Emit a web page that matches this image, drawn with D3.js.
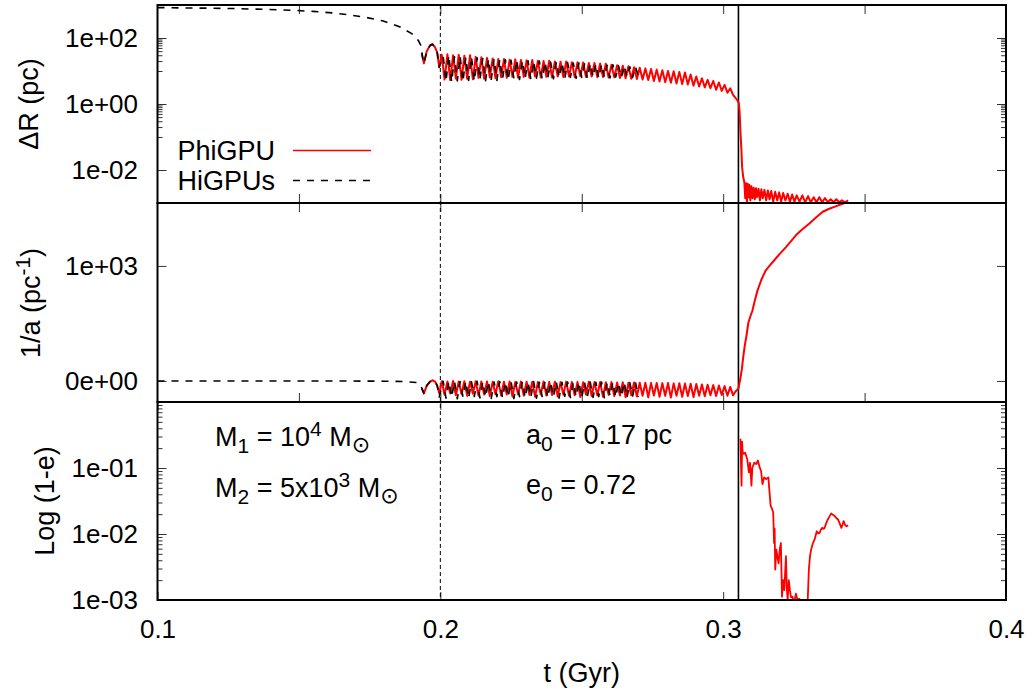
<!DOCTYPE html>
<html><head><meta charset="utf-8">
<script src="https://cdn.jsdelivr.net/npm/d3@7/dist/d3.min.js"></script>
<style>
body{margin:0;background:#fff}
svg{display:block}
text{font-family:"Liberation Sans",Arial,Helvetica,sans-serif}
</style>
</head><body>
<svg id="chart" width="1029" height="688"></svg>
<script>
// ---------------- DATA ----------------
const xTicks = [0.1, 0.2, 0.3, 0.4];
const xTickLabels = ["0.1", "0.2", "0.3", "0.4"];
const xTicksUpper = [0.15, 0.2, 0.25, 0.3, 0.35];

const drTicks = [1e-2, 1, 1e2];
const drTickLabels = ["1e-02", "1e+00", "1e+02"];
const drMinorTicks = [10,20,30,40,50,60,70,80,90, 0.1,0.2,0.3,0.4,0.5,0.6,0.7,0.8,0.9];

const invaTicks = [0, 1000];
const invaTickLabels = ["0e+00", "1e+03"];

const eTicks = [1e-3, 1e-2, 1e-1];
const eTickLabels = ["1e-03", "1e-02", "1e-01"];
const eMinorTicks = [0.002,0.003,0.004,0.005,0.006,0.007,0.008,0.009,
                     0.02,0.03,0.04,0.05,0.06,0.07,0.08,0.09,
                     0.2,0.3,0.4,0.5,0.6,0.7,0.8,0.9];

const eventTimes = {dashed: 0.2, solid: 0.3054};

const seriesNames = ["PhiGPU", "HiGPUs"];

// Delta R (pc), PhiGPU
const phiDR = [
[0.1934,34],[0.1942,17],[0.1952,40],[0.1964,60],[0.1972,65],[0.1981,53],[0.1989,36],[0.1996,13],
[0.2005,31],[0.2015,5.5],[0.2025,32],[0.2035,5.3],[0.2045,30],[0.2055,5.9],[0.2065,31],[0.2075,5.4],
[0.2085,29],[0.2095,5.8],[0.2105,30],[0.2115,5.6],[0.2125,27],[0.2135,6.2],[0.2145,26],[0.2155,5.8],
[0.2165,25],[0.2175,6.4],[0.2185,24],[0.2195,6.0],[0.2205,23],[0.2215,6.5],[0.2225,23],[0.2235,6.2],
[0.2245,22],[0.2255,6.7],[0.2265,22.5],[0.2275,6.3],[0.2285,21.5],[0.2295,6.6],[0.2305,21],[0.2315,6.3],
[0.2325,21.5],[0.2335,6.8],[0.2345,20.5],[0.2355,6.4],[0.2365,20],[0.2375,6.7],[0.2385,20.5],[0.2395,6.4],
[0.2405,19.5],[0.2415,6.8],[0.2425,19],[0.2435,6.5],[0.2445,19.5],[0.2455,6.8],[0.2465,18.5],[0.2475,6.5],
[0.2485,18.5],[0.2495,6.9],[0.2505,18],[0.2515,6.6],[0.2525,17.5],[0.2535,6.8],[0.2545,17.5],[0.2555,6.5],
[0.2565,17],[0.2575,6.6],[0.2585,16.5],[0.2595,6.3],[0.2605,15.5],[0.2615,6.4],[0.2625,15],[0.2635,6.1],
[0.2645,14.5],[0.2655,6.0],[0.2665,14],[0.2675,5.8],[0.2685,13],[0.2695,5.7],[0.2705,12.5],[0.2715,5.5],
[0.2725,12],[0.2735,5.3],[0.2745,11.5],[0.2755,5.0],[0.2765,11],[0.2775,4.8],[0.2785,10.5],[0.2795,4.6],
[0.2805,10],[0.2815,4.4],[0.2825,9.8],[0.2835,4.2],[0.2845,9.4],[0.2855,4.0],[0.2865,9.0],[0.2875,3.9],
[0.2885,7.8],[0.2895,3.6],[0.2905,6.8],[0.2915,3.4],[0.2925,6.0],[0.2935,3.2],[0.2945,5.4],[0.2955,3.0],
[0.2965,5.0],[0.2975,2.7],[0.2985,4.5],[0.2995,2.5],[0.3005,3.8],[0.3015,2.2],[0.3025,3.0],[0.3035,1.9],
[0.3042,1.6],[0.3050,1.3],[0.3055,1.1],[0.3058,0.6],[0.3061,0.15],[0.3064,0.05],[0.3067,0.012],[0.3071,0.006],
[0.3075,0.0042],[0.3078,0.0014],[0.3081,0.0040],[0.3084,0.0011],[0.3087,0.0038],[0.3090,0.0015],[0.3093,0.0035],
[0.3096,0.0012],[0.3100,0.0032],[0.3104,0.0014],[0.3108,0.0029],[0.3112,0.0013],[0.3116,0.0028],[0.3120,0.0015],
[0.3125,0.0027],[0.3130,0.0012],[0.3135,0.0026],[0.3140,0.0014],[0.3146,0.0025],[0.3152,0.0012],[0.3158,0.0024],
[0.3164,0.0013],[0.3170,0.0023],[0.3177,0.0011],[0.3184,0.0022],[0.3191,0.0012],[0.3198,0.0021],[0.3205,0.0011],
[0.3212,0.0020],[0.3220,0.0012],[0.3228,0.0019],[0.3236,0.0011],[0.3244,0.0018],[0.3252,0.0011],[0.3260,0.0017],
[0.3270,0.0011],[0.3280,0.0017],[0.3290,0.00105],[0.3300,0.0016],[0.3310,0.00105],[0.3320,0.0015],[0.3330,0.00105],
[0.3340,0.0015],[0.3350,0.00105],[0.3360,0.0014],[0.3370,0.00105],[0.3380,0.0013],[0.3390,0.00105],[0.3400,0.0013],
[0.3410,0.00105],[0.3420,0.0012],[0.3430,0.00105],[0.3442,0.0012]
];

// Delta R (pc), HiGPUs
const hiDR = [
[0.1000,835],[0.1100,815],[0.1200,798],[0.1268,780],[0.1370,740],[0.1479,690],[0.1550,640],[0.1621,574],
[0.1680,500],[0.1740,416],[0.1798,327],[0.1858,215],[0.1899,136],[0.1922,85],[0.1931,60],[0.1938,24],
[0.1942,17],[0.1952,40],[0.1964,60],[0.1972,65],[0.1981,53],[0.1989,36],[0.1996,13],
[0.2010,28],[0.2020,4.8],[0.2030,30],[0.2040,4.6],[0.2050,27],[0.2060,5.0],[0.2070,28],[0.2080,4.7],
[0.2090,26],[0.2100,5.2],[0.2110,27],[0.2120,4.9],[0.2130,25],[0.2140,5.4],[0.2150,24],[0.2160,5.1],
[0.2170,23],[0.2180,5.6],[0.2190,23],[0.2200,5.2],[0.2210,22],[0.2220,5.8],[0.2230,22],[0.2240,5.3],
[0.2250,21],[0.2260,5.9],[0.2270,21.5],[0.2280,5.5],[0.2290,20.5],[0.2300,6.0],[0.2310,20.5],[0.2320,5.6],
[0.2330,19.5],[0.2340,6.1],[0.2350,20],[0.2360,5.7],[0.2370,19],[0.2380,6.2],[0.2390,18.5],[0.2400,5.8],
[0.2410,19],[0.2420,6.3],[0.2430,18],[0.2440,5.9],[0.2450,18],[0.2460,6.4],[0.2470,17.5],[0.2480,6.0],
[0.2490,17.5],[0.2500,6.4],[0.2510,16.5],[0.2520,6.0],[0.2530,17],[0.2540,6.5],[0.2550,16],[0.2560,6.1],
[0.2570,16],[0.2580,6.5],[0.2590,15],[0.2600,6.2],[0.2610,15.5],[0.2620,6.6],[0.2630,14.5],[0.2640,6.3],
[0.2650,14.5],[0.2660,6.7],[0.2670,13.5],[0.2680,6.4],[0.2690,13.5],[0.2700,7.0]
];

// 1/a (pc^-1), PhiGPU
const phiInvA = [
[0.1934,-64],[0.1942,-108],[0.1952,-40],[0.1964,-5],[0.1972,6],[0.1981,-5],[0.1989,-40],[0.1996,-108],
[0.2005,-2],[0.2015,-120],[0.2025,-4],[0.2035,-110],[0.2045,-1],[0.2055,-125],[0.2065,-5],[0.2075,-115],
[0.2085,-3],[0.2095,-130],[0.2105,-6],[0.2115,-112],[0.2125,-2],[0.2135,-128],[0.2145,-5],[0.2155,-118],
[0.2165,-4],[0.2175,-132],[0.2185,-7],[0.2195,-115],[0.2205,-3],[0.2215,-126],[0.2225,-6],[0.2235,-119],
[0.2245,-5],[0.2255,-135],[0.2265,-8],[0.2275,-117],[0.2285,-4],[0.2295,-128],[0.2305,-7],[0.2315,-121],
[0.2325,-6],[0.2335,-138],[0.2345,-9],[0.2355,-118],[0.2365,-5],[0.2375,-127],[0.2385,-8],[0.2395,-122],
[0.2405,-7],[0.2415,-136],[0.2425,-10],[0.2435,-119],[0.2445,-6],[0.2455,-129],[0.2465,-9],[0.2475,-124],
[0.2485,-8],[0.2495,-140],[0.2505,-11],[0.2515,-120],[0.2525,-7],[0.2535,-131],[0.2545,-10],[0.2555,-125],
[0.2565,-9],[0.2575,-138],[0.2585,-12],[0.2595,-121],[0.2605,-10],[0.2615,-132],[0.2625,-13],[0.2635,-126],
[0.2645,-12],[0.2655,-142],[0.2665,-15],[0.2675,-124],[0.2685,-13],[0.2695,-135],[0.2705,-16],[0.2715,-128],
[0.2725,-15],[0.2735,-143],[0.2745,-18],[0.2755,-127],[0.2765,-17],[0.2775,-138],[0.2785,-19],[0.2795,-130],
[0.2805,-18],[0.2815,-145],[0.2825,-21],[0.2835,-129],[0.2845,-20],[0.2855,-138],[0.2865,-23],[0.2875,-132],
[0.2885,-24],[0.2895,-141],[0.2905,-27],[0.2915,-128],[0.2925,-30],[0.2935,-133],[0.2945,-33],[0.2955,-125],
[0.2965,-36],[0.2975,-130],[0.2985,-40],[0.2995,-122],[0.3005,-45],[0.3015,-128],[0.3025,-52],[0.3035,-125],
[0.3043,-94],[0.3049,-79],[0.3054,-64],[0.3060,10],[0.3066,100],[0.3070,190],[0.3076,300],[0.3083,404],
[0.3089,506],[0.3096,560],[0.3103,608],[0.3112,700],[0.3121,783],[0.3135,880],[0.3150,959],[0.3165,1005],
[0.3180,1047],[0.3200,1105],[0.3222,1163],[0.3240,1215],[0.3257,1266],[0.3280,1318],[0.3305,1369],[0.3328,1420],
[0.3352,1471],[0.3375,1497],[0.3400,1520],[0.3420,1538],[0.3442,1558]
];

// 1/a (pc^-1), HiGPUs
const hiInvA = [
[0.1000,0],[0.1300,0],[0.1600,0],[0.1800,-2],[0.1880,-6],[0.1920,-15],[0.1931,-40],[0.1942,-108],
[0.1952,-40],[0.1964,-5],[0.1972,6],[0.1981,-5],[0.1989,-40],[0.1996,-140],
[0.2010,-2],[0.2020,-150],[0.2030,-5],[0.2040,-140],[0.2050,-3],[0.2060,-155],[0.2070,-6],[0.2080,-138],
[0.2090,-4],[0.2100,-150],[0.2110,-7],[0.2120,-135],[0.2130,-3],[0.2140,-148],[0.2150,-8],[0.2160,-140],
[0.2170,-5],[0.2180,-152],[0.2190,-9],[0.2200,-136],[0.2210,-6],[0.2220,-147],[0.2230,-8],[0.2240,-139],
[0.2250,-5],[0.2260,-153],[0.2270,-10],[0.2280,-137],[0.2290,-7],[0.2300,-146],[0.2310,-9],[0.2320,-141],
[0.2330,-6],[0.2340,-150],[0.2350,-11],[0.2360,-135],[0.2370,-8],[0.2380,-145],[0.2390,-10],[0.2400,-138],
[0.2410,-7],[0.2420,-149],[0.2430,-12],[0.2440,-134],[0.2450,-9],[0.2460,-144],[0.2470,-11],[0.2480,-137],
[0.2490,-8],[0.2500,-147],[0.2510,-13],[0.2520,-133],[0.2530,-10],[0.2540,-143],[0.2550,-12],[0.2560,-136],
[0.2570,-9],[0.2580,-146],[0.2590,-14],[0.2600,-132],[0.2610,-11],[0.2620,-141],[0.2630,-13],[0.2640,-135],
[0.2650,-10],[0.2660,-145],[0.2670,-15],[0.2680,-131],[0.2690,-12],[0.2700,-139]
];

// log(1-e), PhiGPU
const phiE = [
[0.3061,0.278],[0.3063,0.12],[0.3065,0.054],[0.3067,0.25],[0.3068,0.20],[0.3070,0.164],[0.3078,0.17],[0.3085,0.137],
[0.3091,0.086],[0.3095,0.12],[0.3100,0.054],[0.3103,0.10],[0.3110,0.12],[0.3117,0.115],[0.3123,0.13],[0.3129,0.102],
[0.3134,0.09],[0.3139,0.057],[0.3145,0.072],[0.3152,0.068],[0.3160,0.072],[0.3162,0.054],[0.3168,0.0265],[0.3173,0.024],
[0.3177,0.021],[0.3180,0.0073],[0.3182,0.012],[0.3184,0.0029],[0.3188,0.0058],[0.3192,0.0045],[0.3196,0.0036],
[0.3200,0.0058],[0.3204,0.0073],[0.3208,0.00112],[0.3212,0.0020],[0.3216,0.00141],[0.3222,0.0046],[0.3225,0.0015],
[0.3228,0.0010],[0.3232,0.0020],[0.3236,0.00141],[0.3240,0.0011],[0.3245,0.00112],[0.3251,0.0009],[0.3257,0.00125],
[0.3263,0.0010],[0.3269,0.00105],[0.3275,0.0009],[0.3281,0.0010],[0.3290,0.0009],[0.3299,0.0010],[0.3303,0.0029],
[0.3307,0.0046],[0.3311,0.0058],[0.3317,0.0072],[0.3323,0.0082],[0.3331,0.011],[0.3336,0.0102],[0.3341,0.0104],
[0.3345,0.0115],[0.3350,0.0124],[0.3355,0.012],[0.3359,0.0124],[0.3364,0.0145],[0.3370,0.0166],[0.3376,0.0185],
[0.3382,0.0205],[0.3388,0.0195],[0.3394,0.0187],[0.3400,0.0175],[0.3406,0.0166],[0.3412,0.0145],[0.3418,0.0124],
[0.3422,0.0138],[0.3426,0.0157],[0.3431,0.0138],[0.3436,0.0131],[0.3442,0.0135]
];

// ---------------- LAYOUT ----------------
const svg = d3.select("#chart");
const FONT = "'Liberation Sans', Arial, Helvetica, sans-serif";
const FS = 27;      // labels, legend, annotations
const FS_TICK = 26; // tick labels
const xLeft = 157.5, xRight = 1006;
const panels = {
  top: [5, 203],
  mid: [203, 402],
  bot: [402, 600]
};

const x = d3.scaleLinear().domain([0.1, 0.4]).range([xLeft, xRight]);
const yDR = d3.scaleLog().domain([1e-3, 1e3]).range([panels.top[1], panels.top[0]]);
const yInvA = d3.scaleLinear().domain([-183, 1547]).range([panels.mid[1], panels.mid[0]]);
const yE = d3.scaleLog().domain([1e-3, 1]).range([panels.bot[1], panels.bot[0]]);

const RED = "#ff0000";

// clip paths
const defs = svg.append("defs");
Object.entries(panels).forEach(([k, [y0, y1]]) => {
  defs.append("clipPath").attr("id", "clip-" + k)
    .append("rect").attr("x", xLeft).attr("y", y0).attr("width", xRight - xLeft).attr("height", y1 - y0);
});

// ---------------- AXES ----------------
function styleAxis(g) {
  g.select(".domain").remove();
  g.selectAll(".tick line").attr("stroke", "#333").attr("stroke-width", 1);
  g.selectAll("text").attr("font-family", FONT).attr("font-size", FS_TICK).attr("fill", "#000");
  g.attr("font-family", null).attr("font-size", null);
}

function yAxes(scale, major, labels, minor) {
  const gL = svg.append("g").attr("transform", `translate(${xLeft},0)`)
    .call(d3.axisLeft(scale).tickValues(major).tickSize(-9).tickPadding(19.5)
      .tickFormat((d, i) => labels[i]));
  styleAxis(gL);
  const gR = svg.append("g").attr("transform", `translate(${xRight},0)`)
    .call(d3.axisRight(scale).tickValues(major).tickSize(-9).tickFormat(""));
  styleAxis(gR);
  if (minor) {
    const mL = svg.append("g").attr("transform", `translate(${xLeft},0)`)
      .call(d3.axisLeft(scale).tickValues(minor).tickSize(-5).tickFormat(""));
    styleAxis(mL);
    const mR = svg.append("g").attr("transform", `translate(${xRight},0)`)
      .call(d3.axisRight(scale).tickValues(minor).tickSize(-5).tickFormat(""));
    styleAxis(mR);
  }
}

function xTickMarks(y0, y1, values, len) {
  const gT = svg.append("g").attr("transform", `translate(0,${y0})`)
    .call(d3.axisTop(x).tickValues(values).tickSize(-len).tickFormat(""));
  styleAxis(gT);
  const gB = svg.append("g").attr("transform", `translate(0,${y1})`)
    .call(d3.axisBottom(x).tickValues(values).tickSize(-len).tickFormat(""));
  styleAxis(gB);
}

yAxes(yDR, drTicks, drTickLabels, drMinorTicks);
yAxes(yInvA, invaTicks, invaTickLabels, null);
yAxes(yE, eTicks, eTickLabels, eMinorTicks);

xTickMarks(panels.top[0], panels.top[1], xTicksUpper, 9);
xTickMarks(panels.mid[0], panels.mid[1], xTicksUpper, 9);

// bottom x-axis with labels
const gx = svg.append("g").attr("transform", `translate(0,${panels.bot[1]})`)
  .call(d3.axisBottom(x).tickValues(xTicks).tickSize(-8).tickPadding(19.5)
    .tickFormat((d, i) => xTickLabels[i]));
styleAxis(gx);
const gxTop = svg.append("g").attr("transform", `translate(0,${panels.bot[0]})`)
  .call(d3.axisTop(x).tickValues(xTicks).tickSize(-8).tickFormat(""));
styleAxis(gxTop);

// ---------------- EVENT LINES ----------------
svg.append("line")
  .attr("x1", x(eventTimes.dashed)).attr("x2", x(eventTimes.dashed))
  .attr("y1", panels.top[0]).attr("y2", panels.bot[1])
  .attr("stroke", "#000").attr("stroke-width", 1).attr("stroke-dasharray", "4,3");
svg.append("line")
  .attr("x1", x(eventTimes.solid)).attr("x2", x(eventTimes.solid))
  .attr("y1", panels.top[0]).attr("y2", panels.bot[1])
  .attr("stroke", "#000").attr("stroke-width", 1.6);

// ---------------- SERIES ----------------
function drawSeries(data, yScale, key, color, width, dash) {
  const line = d3.line().x(d => x(d[0])).y(d => yScale(d[1]));
  const p = svg.append("path")
    .attr("clip-path", `url(#clip-${key})`)
    .attr("d", line(data))
    .attr("fill", "none")
    .attr("stroke", color)
    .attr("stroke-width", width)
    .attr("stroke-linejoin", "round");
  if (dash) p.attr("stroke-dasharray", dash);
}

drawSeries(phiDR, yDR, "top", RED, 2);
drawSeries(hiDR, yDR, "top", "#000", 1.6, "7,7");
drawSeries(phiInvA, yInvA, "mid", RED, 2);
drawSeries(hiInvA, yInvA, "mid", "#000", 1.6, "7,7");
drawSeries(phiE, yE, "bot", RED, 1.8);

// ---------------- BORDERS ----------------
Object.values(panels).forEach(([y0, y1]) => {
  svg.append("rect").attr("x", xLeft).attr("y", y0)
    .attr("width", xRight - xLeft).attr("height", y1 - y0)
    .attr("fill", "none").attr("stroke", "#000").attr("stroke-width", 2);
});

// ---------------- LEGEND ----------------
const legend = svg.append("g");
[[seriesNames[0], 160, RED, null, 150.5], [seriesNames[1], 190, "#000", "7,7", 180.5]].forEach(([name, by, col, dash, ly]) => {
  legend.append("text").attr("x", 275).attr("y", by).attr("text-anchor", "end")
    .attr("font-size", FS).attr("font-family", FONT).text(name);
  const l = legend.append("line").attr("x1", 293).attr("x2", 371).attr("y1", ly).attr("y2", ly)
    .attr("stroke", col).attr("stroke-width", 1.6);
  if (dash) l.attr("stroke-dasharray", dash);
});

// ---------------- RICH TEXT ----------------
function rich(xp, yp, parts, rotate) {
  const t = svg.append("text").attr("font-family", FONT).attr("font-size", FS).attr("fill", "#000");
  if (rotate) {
    t.attr("transform", `translate(${xp},${yp}) rotate(-90)`).attr("text-anchor", "middle");
  } else {
    t.attr("x", xp).attr("y", yp);
  }
  let shift = 0;
  parts.forEach(([s, kind]) => {
    const sp = t.append("tspan");
    let target = 0, size = FS;
    if (kind === "sub") { target = 7; size = 21; }
    else if (kind === "sup") { target = -10; size = 21; }
    else if (kind === "sun") { target = 6; size = 22; sp.attr("font-family", "'DejaVu Sans', sans-serif"); }
    sp.attr("dy", target - shift).attr("font-size", size).text(s);
    shift = target;
  });
  return t;
}

rich(215, 446, [["M"], ["1", "sub"], [" = 10"], ["4", "sup"], [" M"], ["\u2299", "sun"]]);
rich(215, 497, [["M"], ["2", "sub"], [" = 5x10"], ["3", "sup"], [" M"], ["\u2299", "sun"]]);
rich(526, 444, [["a"], ["0", "sub"], [" = 0.17 pc"]]);
rich(526, 494, [["e"], ["0", "sub"], [" = 0.72"]]);

// axis titles
rich(37.5, 104, [["\u0394R (pc)"]], true);
rich(40, 303, [["1/a (pc"], ["-1", "sup"], [")"]], true);
rich(54, 501, [["Log (1-e)"]], true);
svg.append("text").attr("x", (xLeft + xRight) / 2).attr("y", 682).attr("text-anchor", "middle")
  .attr("font-family", FONT).attr("font-size", FS).text("t (Gyr)");
</script>
</body></html>
